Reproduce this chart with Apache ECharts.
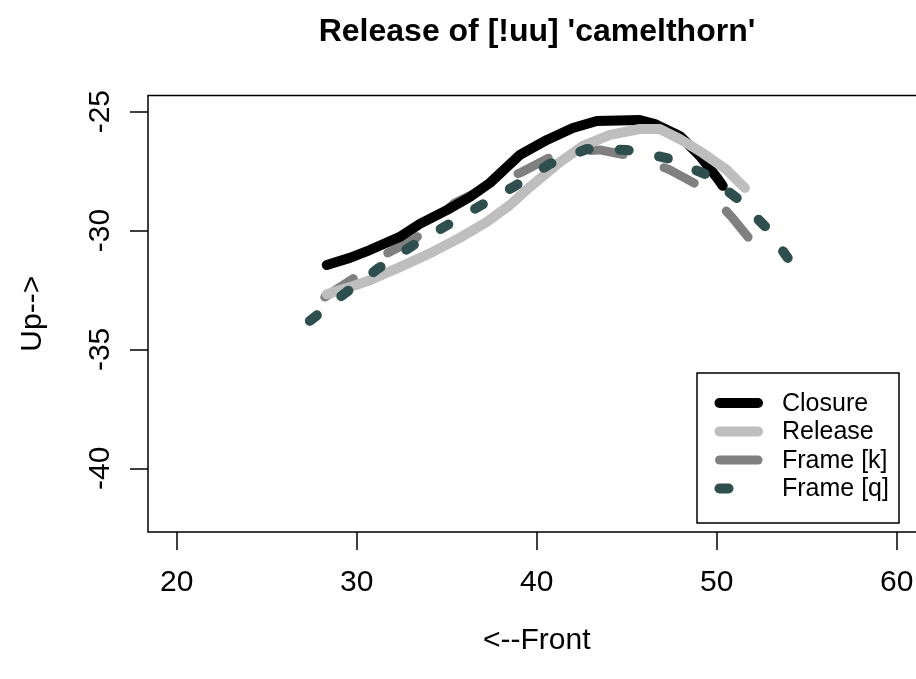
<!DOCTYPE html>
<html>
<head>
<meta charset="utf-8">
<script src="https://cdn.jsdelivr.net/npm/echarts@6/dist/echarts.min.js"></script>
<style>
html,body{margin:0;padding:0;background:#fff;}
#chart{width:916px;height:679px;}
</style>
</head>
<body>
<div id="chart"></div>
<script>
var chartTitle = "Release of [!uu] 'camelthorn'";
var xAxisName = "<--Front";
var yAxisName = "Up-->";
var xTicks = [20, 30, 40, 50, 60];
var yTicks = [-40, -35, -30, -25];
var seriesNames = ["Closure", "Release", "Frame [k]", "Frame [q]"];

var closureX = [28.33, 29.61, 30.72, 32.39, 33.5, 35.0, 36.28, 37.39, 39.06, 40.56, 42.0, 43.33, 45.72, 46.56, 47.94, 49.06, 50.06, 50.33];
var closureY = [-31.45, -31.15, -30.82, -30.27, -29.72, -29.14, -28.59, -28.0, -26.82, -26.19, -25.69, -25.39, -25.35, -25.52, -26.02, -26.86, -27.83, -28.12];

var releaseX = [28.33, 29.61, 30.72, 32.39, 34.22, 35.72, 37.22, 38.5, 39.61, 41.28, 42.56, 44.06, 45.72, 46.83, 47.94, 49.22, 50.56, 51.56];
var releaseY = [-32.68, -32.38, -32.09, -31.54, -30.90, -30.31, -29.64, -28.93, -28.17, -27.12, -26.44, -25.98, -25.73, -25.73, -26.15, -26.74, -27.45, -28.21];

var frameKX = [28.22, 30.17, 31.72, 33.22, 35.44, 37.5, 39.17, 41.28, 43.5, 45.56, 47.39, 49.44, 50.83, 52.0];
var frameKY = [-32.80, -31.84, -30.94, -30.36, -28.84, -28.08, -27.54, -26.70, -26.61, -26.91, -27.45, -28.29, -29.43, -30.52];

var frameQX = [27.39, 29.44, 31.22, 33.06, 34.94, 36.83, 38.78, 40.72, 42.78, 45.0, 47.22, 49.33, 51.11, 52.72, 53.94];
var frameQY = [-33.80, -32.58, -31.58, -30.65, -29.81, -28.97, -28.13, -27.20, -26.57, -26.61, -26.95, -27.62, -28.63, -29.85, -31.15];

function zip(xs, ys) { return xs.map(function (x, i) { return [x, ys[i]]; }); }

var colors = ['#000000', '#BEBEBE', '#808080', '#2F4F4F'];
var widths = [10, 10, 9, 10];
var dashes = ['solid', 'solid', [34, 43], [9, 31]];
var datasets = [zip(closureX, closureY), zip(releaseX, releaseY), zip(frameKX, frameKY), zip(frameQX, frameQY)];
var zOrder = [2, 3, 1, 4];
var FONT = 'Liberation Sans, Arial, sans-serif';

var series = seriesNames.map(function (name, i) {
  return {
    name: name, type: 'line', data: datasets[i], showSymbol: false, symbol: 'none',
    z: zOrder[i] + 1, silent: true,
    lineStyle: { color: colors[i], width: widths[i], type: dashes[i], cap: 'round', join: 'round' }
  };
});

// legend drawn as graphic elements
var legX = 697, legY = 373, legW = 202, legH = 150;
var rowY = [404, 432.5, 461, 489.5];
var legendEls = [{ type: 'rect', shape: { x: legX, y: legY, width: legW, height: legH }, style: { fill: '#fff', stroke: '#000', lineWidth: 1.5 }, z: 10 }];
seriesNames.forEach(function (name, i) {
  var x2 = (i === 3) ? 728.5 : 758;
  legendEls.push({ type: 'line', shape: { x1: 719.5, y1: rowY[i] - 1, x2: x2, y2: rowY[i] - 1 }, style: { stroke: colors[i], lineWidth: widths[i], lineCap: 'round' }, z: 11 });
  legendEls.push({ type: 'text', x: 782, y: rowY[i], style: { text: name, fill: '#000', font: '25px ' + FONT, textVerticalAlign: 'middle', textAlign: 'left' }, z: 11 });
});

var chart = echarts.init(document.getElementById('chart'), null, { renderer: 'canvas' });
chart.setOption({
  animation: false,
  backgroundColor: '#fff',
  title: {
    text: chartTitle, left: 532, top: 11, textAlign: 'center',
    textStyle: { fontFamily: FONT, fontSize: 32, fontWeight: 'bold', color: '#000', lineHeight: 32 }
  },
  grid: { left: 148, top: 95.5, width: 777.6, height: 436.5, outerBoundsMode: 'none', containLabel: false, show: true, borderColor: '#000', borderWidth: 1.5, backgroundColor: 'transparent' },
  xAxis: {
    type: 'value', min: 18.4, max: 61.6,
    name: xAxisName, nameLocation: 'middle', nameGap: 94,
    nameTextStyle: { fontFamily: FONT, fontSize: 30, color: '#000' },
    axisLine: { show: false },
    axisTick: { show: true, length: 18, customValues: xTicks, lineStyle: { color: '#000', width: 1.5 } },
    axisLabel: { customValues: xTicks, margin: 36, fontFamily: FONT, fontSize: 30, color: '#000' },
    splitLine: { show: false }
  },
  yAxis: {
    type: 'value', min: -42.68, max: -24.32,
    name: yAxisName, nameLocation: 'middle', nameGap: 100, nameRotate: 90,
    nameTextStyle: { fontFamily: FONT, fontSize: 30, color: '#000' },
    axisLine: { show: false },
    axisTick: { show: true, length: 18, customValues: yTicks, lineStyle: { color: '#000', width: 1.5 } },
    axisLabel: { customValues: yTicks, rotate: 90, margin: 32, fontFamily: FONT, fontSize: 30, color: '#000' },
    splitLine: { show: false }
  },
  series: series,
  graphic: legendEls
});
</script>
</body>
</html>
